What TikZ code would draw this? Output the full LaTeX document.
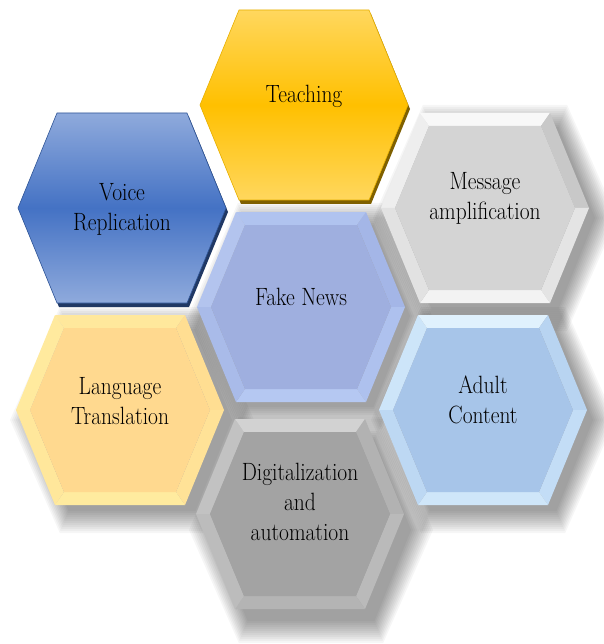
\documentclass[tikz,border=0pt]{standalone}
\usepackage{xcolor}
\usepackage{graphicx}
\usepackage{tikz}
\usetikzlibrary{calc,shadows}

\definecolor{teachtop}{HTML}{FFD75E}
\definecolor{teachmid}{HTML}{FFC000}
\definecolor{teachrim}{HTML}{E8B000}
\definecolor{teachedge}{HTML}{7F6000}
\definecolor{voicetop}{HTML}{8FAADC}
\definecolor{voicemid}{HTML}{4472C4}
\definecolor{voicerim}{HTML}{2F5597}
\definecolor{voiceedge}{HTML}{203864}
% bevelled cells: face and the six facets (upper left, top, upper right, lower right, bottom, lower left)
\definecolor{msg0}{HTML}{D4D4D4}
\definecolor{msg1}{HTML}{EEEEEE}
\definecolor{msg2}{HTML}{F8F8F8}
\definecolor{msg3}{HTML}{C8C8C8}
\definecolor{msg4}{HTML}{E4E4E4}
\definecolor{msg5}{HTML}{F3F3F3}
\definecolor{msg6}{HTML}{E2E2E2}
\definecolor{fake0}{HTML}{9FAFDF}
\definecolor{fake1}{HTML}{B3C4EE}
\definecolor{fake2}{HTML}{B0C3EF}
\definecolor{fake3}{HTML}{A4B6E7}
\definecolor{fake4}{HTML}{AEC1EE}
\definecolor{fake5}{HTML}{B5C8F2}
\definecolor{fake6}{HTML}{A9BBE9}
\definecolor{lang0}{HTML}{FFD98F}
\definecolor{lang1}{HTML}{FFEA9E}
\definecolor{lang2}{HTML}{FFE89C}
\definecolor{lang3}{HTML}{FFDE92}
\definecolor{lang4}{HTML}{FFE297}
\definecolor{lang5}{HTML}{FFEB9F}
\definecolor{lang6}{HTML}{FFE79B}
\definecolor{adult0}{HTML}{A7C5E9}
\definecolor{adult1}{HTML}{CDE5F9}
\definecolor{adult2}{HTML}{E0F1FD}
\definecolor{adult3}{HTML}{B8D4F1}
\definecolor{adult4}{HTML}{C3DDF6}
\definecolor{adult5}{HTML}{CFE6F9}
\definecolor{adult6}{HTML}{BDD8F3}
\definecolor{digit0}{HTML}{A3A3A3}
\definecolor{digit1}{HTML}{C2C2C2}
\definecolor{digit2}{HTML}{D2D2D2}
\definecolor{digit3}{HTML}{B2B2B2}
\definecolor{digit4}{HTML}{BABABA}
\definecolor{digit5}{HTML}{B4B4B4}
\definecolor{digit6}{HTML}{BCBCBC}

\newcommand{\narrow}[1]{\scalebox{0.86}[1]{\begin{tabular}{@{}c@{}}#1\end{tabular}}}

\begin{document}
\begin{tikzpicture}[x=1pt, y=-1pt,
        cell/.style={font=\fontsize{25}{30}\selectfont, inner sep=0pt, text=black},
        haze/.style={fill=black, opacity=0.035},
        raised/.style={draw=#1rim, line width=0.6pt, top color=#1top, bottom color=#1top,
            middle color=#1mid, drop shadow={shadow xshift=2pt, shadow yshift=-4pt,
            fill=#1edge, opacity=1}}]

    \fill[white] (0,0) rectangle (603,644);
    \useasboundingbox (0,0) rectangle (603,644);

    % centres, outer corners and inner (bevel) corners
    \foreach \nm/\cx/\cy in {teach/304/105, voice/122/208, msg/485/208, fake/301/307,
            lang/120/410, adult/483/410, digit/300/514} {
        \coordinate (\nm) at (\cx,\cy);
        \foreach \k/\dx/\dy/\ex/\ey in {1/-104/0/-90/0, 2/-65/-95/-56/-82, 3/65/-95/56/-82,
                4/104/0/90/0, 5/65/95/56/82, 6/-65/95/-56/82} {
            \coordinate (\nm-o\k) at ($(\nm)+(\dx,\dy)$);
            \coordinate (\nm-i\k) at ($(\nm)+(\ex,\ey)$);
        }
    }

    % soft shadows first, as stacked faint hexagons
    \foreach \nm/\sx/\sy in {msg/10/10, fake/9/9, lang/12/10, adult/10/10, digit/11/16}
        \foreach \e in {18,16,...,-4}
            \fill[haze] ($(\nm)+({-104-\e+\sx},\sy)$) -- ($(\nm)+({-65-0.4*\e+\sx},{-95-\e+\sy})$)
                -- ($(\nm)+({65+0.4*\e+\sx},{-95-\e+\sy})$) -- ($(\nm)+({104+\e+\sx},\sy)$)
                -- ($(\nm)+({65+0.4*\e+\sx},{95+\e+\sy})$) -- ($(\nm)+({-65-0.4*\e+\sx},{95+\e+\sy})$) -- cycle;

    % bevelled cells
    \foreach \nm in {msg,fake,lang,adult,digit} {
        \foreach \k/\j in {1/2,2/3,3/4,4/5,5/6,6/1}
            \fill[\nm\k] (\nm-o\k) -- (\nm-o\j) -- (\nm-i\j) -- (\nm-i\k) -- cycle;
        \fill[\nm0] (\nm-i1) -- (\nm-i2) -- (\nm-i3) -- (\nm-i4) -- (\nm-i5) -- (\nm-i6) -- cycle;
    }

    % raised cells
    \foreach \nm in {teach,voice}
        \path[raised=\nm] (\nm-o1) -- (\nm-o2) -- (\nm-o3) -- (\nm-o4) -- (\nm-o5) -- (\nm-o6) -- cycle;

    \node[cell, yshift=8pt] (teachtxt) at (teach) {\narrow{Teaching}};
    \node[cell, yshift=-1pt] (voicetxt) at (voice) {\narrow{Voice\\Replication}};
    \node[cell, yshift=10pt] (msgtxt) at (msg) {\narrow{Message\\amplification}};
    \node[cell, yshift=8pt] (faketxt) at (fake) {\narrow{Fake News}};
    \node[cell, yshift=7pt] (langtxt) at (lang) {\narrow{Language\\Translation}};
    \node[cell, yshift=8pt] (adulttxt) at (adult) {\narrow{Adult\\Content}};
    \node[cell, yshift=10pt] (digittxt) at (digit) {\narrow{Digitalization\\and\\automation}};

\end{tikzpicture}
\end{document}
